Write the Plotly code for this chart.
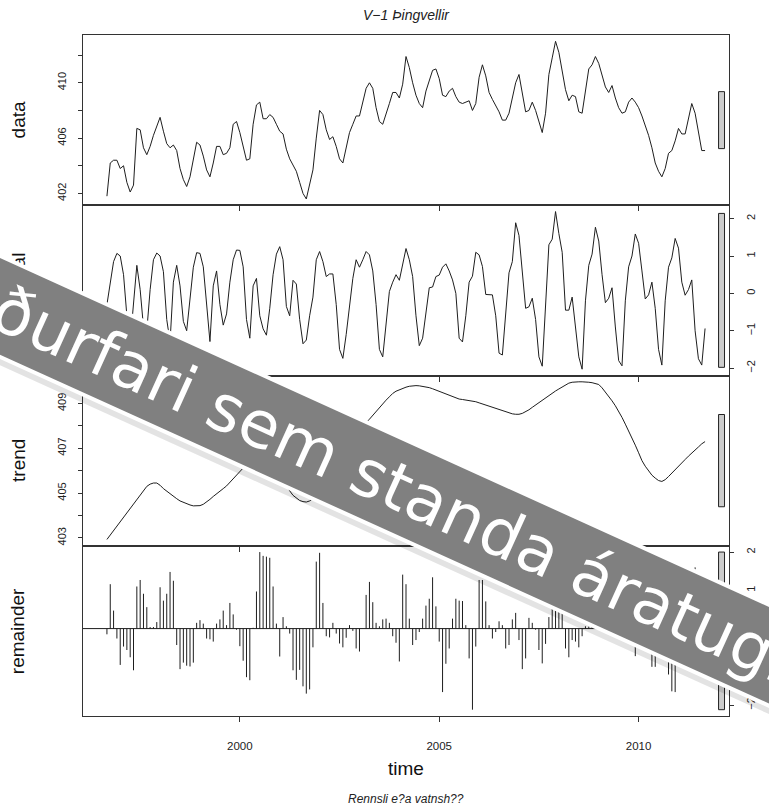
import plotly.graph_objects as go
from plotly.subplots import make_subplots

# ---------------- data (monthly series, start Sep 1996) ----------------
start_year = 1996
start_month = 9

data = [
    401.8, 404.2, 404.4, 404.4, 403.8, 404.0, 402.8, 402.1, 402.6, 406.7,
    406.6, 405.3, 404.8, 405.4, 406.2, 406.9, 407.5, 406.5, 405.6, 405.3,
    405.5, 405.1, 403.8, 403.0, 402.5, 403.2, 404.6, 405.7, 405.5, 404.7,
    403.7, 403.2, 404.2, 405.4, 405.4, 404.8, 404.9, 405.3, 407.0, 407.2,
    406.4, 405.5, 404.4, 404.5, 407.0, 408.4, 408.6, 407.4, 407.4, 407.7,
    407.5, 407.0, 406.5, 406.3, 405.2, 404.5, 404.1, 403.6, 402.8, 402.0,
    401.6, 402.6, 403.7, 406.0, 408.0, 407.7, 406.6, 405.9, 406.1, 405.4,
    404.5, 404.2, 405.2, 406.4, 407.0, 407.6, 407.6, 408.5, 409.6, 410.0,
    409.6, 408.2, 407.2, 407.0, 407.7, 408.5, 409.3, 409.3, 408.9, 409.9,
    411.9, 411.1, 410.0, 409.1, 408.5, 408.2, 409.4, 410.2, 410.9, 411.0,
    410.3, 409.1, 409.0, 409.4, 409.6, 409.0, 408.6, 408.5, 408.6, 408.7,
    408.0, 408.5, 410.4, 411.3, 410.5, 409.3, 408.8, 408.4, 407.9, 407.3,
    407.3, 407.8, 408.8, 410.0, 410.6, 409.3, 407.9, 408.0, 408.6, 408.0,
    407.2, 406.4, 407.8, 410.6, 411.8, 413.0, 412.2, 410.9, 409.5, 408.7,
    409.1, 409.0, 407.9, 407.8, 409.5, 411.0, 411.3, 411.9, 411.4, 410.6,
    409.7, 409.3, 409.8, 408.9, 408.2, 407.8, 407.9, 408.6, 408.9, 408.6,
    408.2, 407.6, 406.9, 406.2, 405.3, 404.2, 403.6, 403.2, 403.8, 404.9,
    405.1, 405.8, 406.7, 406.3, 406.3, 407.4, 408.5, 407.8, 406.3, 405.1, 405.1,
]

seasonal = [
    -0.3, 0.3, 0.85, 1.07, 1.0, 0.5, -0.6, -1.3, -0.2, 0.75,
    0.1, -0.9, -1.0, 0.1, 0.9, 1.08, 1.0, 0.58, -0.7, -1.3,
    0.3, 0.75, 0.2, -0.75, -1.0, -0.2, 0.7, 1.09, 1.07, 0.71,
    -0.3, -1.29, 0.2, 0.6, -0.3, -0.85, -0.55, 0.3, 0.9, 1.16,
    1.15, 0.71, -0.7, -1.2, 0.2, 0.4, -0.6, -0.95, -1.12, -0.4,
    0.5, 1.05, 1.25, 0.9, -0.35, -0.6, 0.35, 0.25, -0.7, -1.35,
    -1.25, -0.6, -0.1, 0.9, 1.12, 0.85, 0.45, 0.52, 0.52, -0.3,
    -1.5, -1.74, -1.1, -0.4, 0.4, 0.9, 0.7, 0.9, 1.12, 1.03,
    0.6, -0.3, -1.5, -1.7, -0.8, 0.05, 0.3, 0.5, 0.35, 0.8,
    1.2, 0.9, 0.45, -0.6, -1.4, -1.2, -0.5, 0.15, 0.17, 0.45,
    0.49, 0.7, 0.79, 0.6, 0.36, 0.0, -1.2, -1.3, -0.6, 0.3,
    0.46, 1.1, 1.03, 0.72, -0.03, -0.04, -0.04, -0.6, -1.6, -1.65,
    -0.5, 0.55, 0.85, 1.89, 1.55, 0.5, -0.4, -0.36, -0.13, -0.7,
    -1.7, -1.95, -0.2, 1.3, 1.45, 2.19, 1.6, 1.1, -0.45, -0.45,
    -0.1, -1.0, -1.7, -2.03, -0.2, 0.75, 1.05, 1.77, 1.4, 0.5,
    -0.25, -0.13, 0.15, -0.9, -1.8, -1.94, -0.2, 0.71, 1.0, 1.59,
    1.34, 0.6, -0.15, -0.04, 0.3, -0.4, -1.5, -1.92, -0.2, 0.7,
    0.95, 1.47, 1.21, 0.3, -0.05, 0.1, 0.36, -1.0, -1.75, -1.92, -0.94,
]

trend = [
    402.93, 403.13, 403.33, 403.53, 403.73, 403.93, 404.13, 404.33, 404.53, 404.73,
    404.93, 405.13, 405.3, 405.4, 405.45, 405.45, 405.35, 405.2, 405.08, 404.95,
    404.85, 404.75, 404.65, 404.58, 404.52, 404.47, 404.43, 404.42, 404.44, 404.5,
    404.6, 404.72, 404.85, 404.98, 405.1, 405.2, 405.32, 405.48, 405.65, 405.84,
    406.0, 406.15, 406.28, 406.4, 406.5, 406.55, 406.58, 406.55, 406.48, 406.36,
    406.2, 406.0, 405.8, 405.55, 405.3, 405.1, 404.9, 404.77, 404.67, 404.62,
    404.6, 404.65, 404.75, 404.9, 405.1, 405.35, 405.6, 405.85, 406.1, 406.35,
    406.6, 406.8, 407.0, 407.2, 407.4, 407.6, 407.8, 407.98, 408.15, 408.3,
    408.47, 408.65, 408.85, 409.0, 409.15, 409.3, 409.45, 409.55, 409.62, 409.68,
    409.73, 409.77, 409.79, 409.8, 409.79, 409.77, 409.75, 409.71, 409.66, 409.6,
    409.55, 409.49, 409.43, 409.37, 409.31, 409.25, 409.2, 409.18, 409.16, 409.14,
    409.12, 409.08, 409.03, 408.98, 408.94, 408.9, 408.85, 408.8, 408.75, 408.7,
    408.64, 408.58, 408.54, 408.52, 408.52, 408.56, 408.63, 408.72, 408.83, 408.94,
    409.04, 409.15, 409.25, 409.36, 409.46, 409.56, 409.65, 409.74, 409.83, 409.91,
    409.95, 409.97, 409.97, 409.97, 409.97, 409.95, 409.93, 409.9, 409.85, 409.7,
    409.52, 409.32, 409.12, 408.9, 408.67, 408.38, 408.08, 407.78, 407.48, 407.14,
    406.8, 406.45, 406.2, 405.97, 405.8, 405.67, 405.56, 405.52, 405.6, 405.74,
    405.9, 406.05, 406.2, 406.35, 406.5, 406.65, 406.8, 406.93, 407.06, 407.2, 407.3,
]

remainder = [
    -0.15, 1.16, 0.47, -0.26, -0.95, -0.47, -0.56, -0.75, -1.09, 1.10,
    1.27, 0.91, 0.56, 0.04, 0.04, 0.17, 1.08, 0.73, 0.91, 1.48,
    1.25, -0.43, -1.06, -0.89, -0.97, -0.99, -0.89, 0.15, 0.22, 0.13,
    -0.26, -0.28, -0.34, 0.13, 0.24, 0.47, 0.09, 0.67, 0.37, -0.03,
    -0.46, -0.84, -1.27, -1.35, 0.02, 0.97, 2.0, 1.9, 1.88, 1.85,
    1.10, 0.13, -0.73, 0.30, 0.06, -0.13, -1.09, -1.34, -1.08, -1.51,
    -1.70, -1.59, -0.49, 1.75, 1.98, 0.67, -0.20, -0.23, 0.15, -0.13,
    -0.39, -0.49, -0.24, 0.09, -0.06, -0.52, -0.60, 0.0, 0.88, 1.22,
    0.69, 0.15, 0.06, 0.24, 0.26, 0.15, -0.20, -0.37, -0.86, 1.41,
    1.16, 0.26, -0.43, -0.30, -0.09, 0.26, 0.60, 0.78, 1.34, 0.58,
    -0.34, -1.66, -0.92, -0.52, 0.26, 0.78, 0.73, 0.72, 0.09, -0.78,
    -2.12, -0.47, 1.27, 1.27, 0.71, 0.09, -0.26, -0.09, 0.19, 0.09,
    -0.52, -0.43, 0.24, 0.41, -0.30, -1.06, -0.78, 0.28, 0.15, -0.03,
    -0.56, -0.91, -0.4, 0.3, 0.95, 1.2, 0.9, 0.4, -0.52, -0.75,
    -0.3, -0.34, -0.49, -0.2, 0.06, 0.05, 0.3, 0.26, 0.2, 0.5,
    0.45, 0.13, 0.55, 0.95, 1.3, 1.3, 0.0, 0.1, 0.3, -0.72,
    0.06, 0.55, 0.8, 0.3, -1.0, -1.0, -0.42, -0.38, -0.6, -1.2,
    -1.64, -1.66, -0.75, -0.4, -0.15, 0.6, 1.2, 1.6, 0.9, -0.2, -1.2,
]

panel_names = ["data", "seasonal", "trend", "remainder"]
x_tick_years = [2000, 2005, 2010]
y_ticks = [
    [402, 404, 406, 408, 410, 412],
    [-2, -1, 0, 1, 2],
    [403, 404, 405, 406, 407, 408, 409, 410],
    [-2, -1, 0, 1, 2],
]
y_ticklabels = [
    ["402", "", "406", "", "410", ""],
    ["\u22122", "\u22121", "0", "1", "2"],
    ["403", "", "405", "", "407", "", "409", ""],
    ["\u22122", "\u22121", "0", "1", "2"],
]
title_text = "V\u22121 \u00deingvellir"
sub_text = "Rennsli e?a vatnsh??"
xlab_text = "time"
banner_text = "\u00f0urfari sem standa \u00e1ratugi"

# ---------------- layout geometry ----------------
W, H = 769, 808
ML, MR, MT, MB = 83, 37, 35, 92
PW, PH = W - ML - MR, H - MT - MB


def px_x(px):
    return (px - ML) / PW


def px_y(py):
    return (H - MB - py) / PH


n = len(data)
time = [start_year + (start_month - 1 + k) / 12.0 for k in range(n)]
series = [data, seasonal, trend, remainder]

fig = make_subplots(rows=4, cols=1, shared_xaxes=True, vertical_spacing=0)

line_col = "#1e1e1e"
for r, s in enumerate(series[:3]):
    fig.add_trace(go.Scatter(x=time, y=s, mode="lines",
                             line=dict(color=line_col, width=1),
                             showlegend=False, hoverinfo="skip"),
                  row=r + 1, col=1)

# remainder drawn as vertical "h"-type spikes from zero
spike_x, spike_y = [], []
for t, v in zip(time, remainder):
    spike_x += [t, t, None]
    spike_y += [0, v, None]
fig.add_trace(go.Scatter(x=spike_x, y=spike_y, mode="lines",
                         line=dict(color=line_col, width=1),
                         showlegend=False, hoverinfo="skip"),
              row=4, col=1)

span_t = time[-1] - time[0]
x_range = [time[0] - 0.04 * span_t, time[-1] + 0.04 * span_t]

font_fam = "Liberation Sans, Arial, sans-serif"
axis_col = "#333333"

for r in range(1, 5):
    fig.update_xaxes(row=r, col=1, range=x_range, tickvals=x_tick_years,
                     ticktext=[str(v) for v in x_tick_years],
                     showline=True, mirror=True, linecolor=axis_col, linewidth=1,
                     ticks="outside", ticklen=5, tickcolor=axis_col,
                     showgrid=False, zeroline=False,
                     showticklabels=(r == 4), ticklabelstandoff=14,
                     tickfont=dict(family=font_fam, size=11.5, color="#222"))

ranges = []
for r, s in enumerate(series):
    lo, hi = min(s), max(s)
    pad = 0.04 * (hi - lo)
    ranges.append([lo - pad, hi + pad])
    fig.update_yaxes(row=r + 1, col=1, range=[lo - pad, hi + pad],
                     tickvals=y_ticks[r], ticktext=y_ticklabels[r],
                     side=("left" if r % 2 == 0 else "right"),
                     showline=True, mirror=True, linecolor=axis_col, linewidth=1,
                     ticks="outside", ticklen=4, tickcolor=axis_col,
                     tickangle=-90, showgrid=False, zeroline=False,
                     ticklabelstandoff=8,
                     tickfont=dict(family=font_fam, size=11, color="#222"))

# range bars (equal data-unit height = smallest component range)
bar_h = min(max(s) - min(s) for s in series)
shapes = []
for r in range(4):
    mid = (ranges[r][0] + ranges[r][1]) / 2
    yref = "y" if r == 0 else "y%d" % (r + 1)
    shapes.append(dict(type="rect", xref="paper", yref=yref,
                       x0=px_x(721.5), x1=px_x(727.5),
                       y0=mid - bar_h / 2, y1=mid + bar_h / 2,
                       fillcolor="#cccccc", line=dict(color="#222", width=1),
                       layer="above"))
shapes.append(dict(type="line", xref="paper", yref="y4", x0=0, x1=1, y0=0, y1=0,
                   line=dict(color=line_col, width=1), layer="above"))

annotations = []
for r, name in enumerate(panel_names):
    annotations.append(dict(text=name, xref="paper", yref="paper",
                            x=px_x(18), y=1 - (r + 0.5) / 4, showarrow=False,
                            textangle=-90, xanchor="center", yanchor="middle",
                            font=dict(family=font_fam, size=19, color="#111")))
annotations.append(dict(text=xlab_text, xref="paper", yref="paper",
                        x=0.5, y=px_y(768), showarrow=False,
                        xanchor="center", yanchor="middle",
                        font=dict(family=font_fam, size=19, color="#111")))
annotations.append(dict(text="<i>%s</i>" % title_text, xref="paper", yref="paper",
                        x=0.5, y=px_y(15), showarrow=False,
                        xanchor="center", yanchor="middle",
                        font=dict(family=font_fam, size=14, color="#222")))
annotations.append(dict(text="<i>%s</i>" % sub_text, xref="paper", yref="paper",
                        x=0.5, y=px_y(799), showarrow=False,
                        xanchor="center", yanchor="middle",
                        font=dict(family=font_fam, size=12, color="#222")))

# diagonal banner
ang = 24.4
bx, by = 393, 484
annotations.append(dict(text=" ", xref="paper", yref="paper",
                        x=px_x(bx), y=px_y(by + 4), showarrow=False,
                        xanchor="center", yanchor="middle", textangle=ang,
                        width=1500, height=99, bgcolor="rgba(0,0,0,0.11)",
                        borderwidth=0, borderpad=0,
                        font=dict(size=10, color="rgba(0,0,0,0)")))
annotations.append(dict(text=banner_text, xref="paper", yref="paper",
                        x=px_x(bx), y=px_y(by), showarrow=False,
                        xanchor="center", yanchor="middle", textangle=ang,
                        width=1500, height=88, bgcolor="#808080",
                        bordercolor="#ffffff", borderwidth=4, borderpad=0,
                        font=dict(family="DejaVu Sans", size=65, color="#ffffff")))

fig.update_layout(width=W, height=H, margin=dict(l=ML, r=MR, t=MT, b=MB),
                  paper_bgcolor="white", plot_bgcolor="white",
                  showlegend=False, shapes=shapes,
                  annotations=annotations)

fig.write_html("out.html")
